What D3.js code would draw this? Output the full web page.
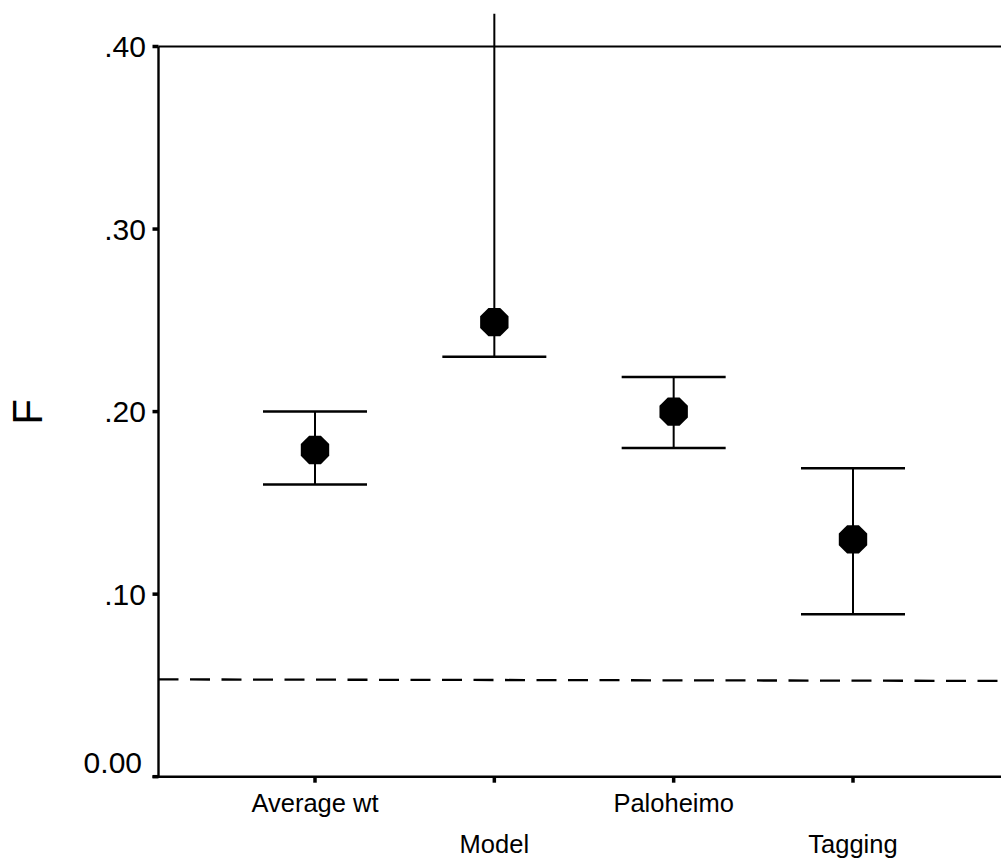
<!DOCTYPE html>
<html>
<head>
<meta charset="utf-8">
<script src="https://cdn.jsdelivr.net/npm/d3@7"></script>
<style>
  body { margin: 0; background: #fff; }
  svg { display: block; font-family: "Liberation Sans", Arial, sans-serif; }
</style>
</head>
<body>
<div id="chart"></div>
<script>
const width = 1001,
    height = 859;

// data
const methods = ["Average wt", "Model", "Paloheimo", "Tagging"];
const estimate = [0.179, 0.249, 0.200, 0.130];
const lower = [0.160, 0.230, 0.180, 0.089];
const upper = [0.200, 0.418, 0.219, 0.169];
const refTop = 0.40;      // solid line at the top
const refLow = 0.0533;    // dashed line
const yTicks = [0, 0.1, 0.2, 0.3, 0.4];
const yTickLabels = ["0.00", ".10", ".20", ".30", ".40"];

const svg = d3.select("#chart")
  .append("svg")
  .attr("width", width)
  .attr("height", height);

const axisX = 158.5;

const xScale = d3.scalePoint()
  .domain(methods)
  .range([315, 853]);

const yScale = d3.scaleLinear()
  .domain([0, 0.4])
  .range([776.7, 46.5]);

// reference lines
svg.append("line")
  .attr("x1", axisX).attr("x2", width)
  .attr("y1", yScale(refTop)).attr("y2", yScale(refTop))
  .attr("stroke", "#000").attr("stroke-width", 2.2);

svg.append("line")
  .attr("x1", axisX).attr("x2", width)
  .attr("y1", yScale(refLow)).attr("y2", yScale(refLow) + 1.5)
  .attr("stroke", "#000").attr("stroke-width", 2.3)
  .attr("stroke-dasharray", "20,11.5");

// y axis
svg.append("line")
  .attr("x1", axisX).attr("x2", axisX)
  .attr("y1", yScale(0.4)).attr("y2", yScale(0) + 1)
  .attr("stroke", "#000").attr("stroke-width", 2.4);

yTicks.forEach((t, i) => {
  svg.append("line")
    .attr("x1", axisX - 6).attr("x2", axisX)
    .attr("y1", yScale(t)).attr("y2", yScale(t))
    .attr("stroke", "#000").attr("stroke-width", 3.5);
  // the zero label sits a little above its tick
  svg.append("text")
    .attr("x", t === 0 ? 142 : 146)
    .attr("y", yScale(t) + (t === 0 ? -15 : 0))
    .attr("dy", "0.36em")
    .attr("text-anchor", "end")
    .style("font-size", "30px")
    .text(yTickLabels[i]);
});

// x axis
svg.append("line")
  .attr("x1", axisX - 6).attr("x2", width)
  .attr("y1", yScale(0)).attr("y2", yScale(0))
  .attr("stroke", "#000").attr("stroke-width", 2.6);

methods.forEach((m, i) => {
  const x = xScale(m);
  svg.append("line")
    .attr("x1", x).attr("x2", x)
    .attr("y1", yScale(0)).attr("y2", yScale(0) + 6)
    .attr("stroke", "#000").attr("stroke-width", 3.5);
  // labels are staggered on two rows
  svg.append("text")
    .attr("x", x)
    .attr("y", i % 2 === 0 ? 812 : 852.5)
    .attr("text-anchor", "middle")
    .style("font-size", "25.5px")
    .text(m);
});

// y axis label
svg.append("text")
  .attr("transform", "translate(42, 412) rotate(-90)")
  .attr("text-anchor", "middle")
  .style("font-size", "42px")
  .text("F");

// error bars
const capHalf = 52;
methods.forEach((m, i) => {
  const x = xScale(m);
  svg.append("line")
    .attr("x1", x).attr("x2", x)
    .attr("y1", yScale(lower[i])).attr("y2", yScale(upper[i]))
    .attr("stroke", "#000").attr("stroke-width", 2);
  svg.append("line")
    .attr("x1", x - capHalf).attr("x2", x + capHalf)
    .attr("y1", yScale(lower[i])).attr("y2", yScale(lower[i]))
    .attr("stroke", "#000").attr("stroke-width", 2.5);
  if (upper[i] < 0.4) {
    svg.append("line")
      .attr("x1", x - capHalf).attr("x2", x + capHalf)
      .attr("y1", yScale(upper[i])).attr("y2", yScale(upper[i]))
      .attr("stroke", "#000").attr("stroke-width", 2.5);
  }
});

// octagon markers
const R = 14.2 / Math.cos(Math.PI / 8);
const octagon = d3.range(8).map(k => {
  const a = Math.PI / 8 + k * Math.PI / 4;
  return [R * Math.cos(a), R * Math.sin(a)];
});

svg.selectAll(".pt")
  .data(methods)
  .join("polygon")
  .attr("class", "pt")
  .attr("points", octagon.map(p => p.join(",")).join(" "))
  .attr("transform", (d, i) => `translate(${xScale(d)}, ${yScale(estimate[i])})`)
  .attr("fill", "#000");
</script>
</body>
</html>
